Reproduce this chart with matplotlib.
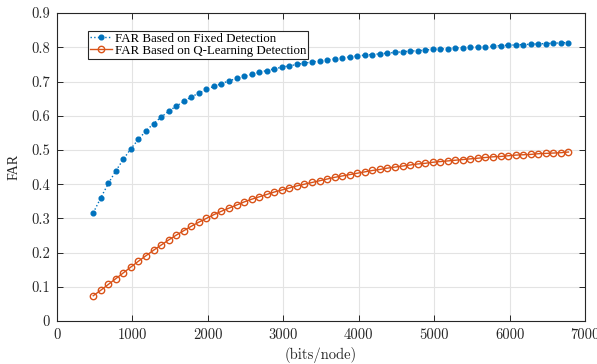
import matplotlib
matplotlib.use("Agg")
import matplotlib.pyplot as plt

# x positions (bits/node), one per marker
bits = list(range(480, 6781, 100))

far_fixed = [
    0.316, 0.360, 0.402, 0.439, 0.473, 0.504, 0.531, 0.556, 0.577, 0.596,
    0.613, 0.628, 0.642, 0.655, 0.666, 0.677, 0.686, 0.694, 0.702, 0.709,
    0.715, 0.721, 0.727, 0.732, 0.737, 0.742, 0.746, 0.750, 0.754, 0.757,
    0.760, 0.763, 0.766, 0.769, 0.772, 0.775, 0.777, 0.779, 0.781, 0.783,
    0.785, 0.787, 0.789, 0.790, 0.792, 0.794, 0.795, 0.796, 0.798, 0.799,
    0.800, 0.801, 0.802, 0.803, 0.805, 0.806, 0.807, 0.808, 0.809, 0.810,
    0.811, 0.812, 0.813, 0.814,
]

far_qlearn = [
    0.074, 0.090, 0.107, 0.124, 0.141, 0.158, 0.175, 0.191, 0.207, 0.222,
    0.237, 0.251, 0.264, 0.277, 0.289, 0.300, 0.311, 0.321, 0.330, 0.339,
    0.348, 0.356, 0.363, 0.370, 0.377, 0.383, 0.389, 0.395, 0.400, 0.405,
    0.410, 0.415, 0.420, 0.424, 0.428, 0.432, 0.436, 0.440, 0.443, 0.447,
    0.450, 0.453, 0.456, 0.459, 0.461, 0.464, 0.466, 0.468, 0.470, 0.472,
    0.474, 0.476, 0.478, 0.480, 0.481, 0.483, 0.485, 0.486, 0.487, 0.489,
    0.490, 0.491, 0.492, 0.494,
]

labels = ["FAR Based on Fixed Detection", "FAR Based on Q-Learning Detection"]
xticks = [0, 1000, 2000, 3000, 4000, 5000, 6000, 7000]
yticks = [0, 0.1, 0.2, 0.3, 0.4, 0.5, 0.6, 0.7, 0.8, 0.9]

BLUE = "#0072BD"
ORANGE = "#D95319"
AXCOL = "#262626"

plt.rcParams["axes.formatter.use_mathtext"] = True

fig = plt.figure(figsize=(5.97, 3.64), dpi=100)
ax = fig.add_axes([0.0955, 0.118, 0.8845, 0.846])

ax.plot(bits, far_fixed, linestyle=":", color=BLUE, linewidth=1.0,
        marker="o", markersize=3.4, markerfacecolor=BLUE,
        markeredgecolor=BLUE, label=labels[0])
ax.plot(bits, far_qlearn, linestyle="-", color=ORANGE, linewidth=1.0,
        marker="o", markersize=4.6, markerfacecolor="none",
        markeredgecolor=ORANGE, markeredgewidth=1.0, label=labels[1])

ax.set_xlim(0, 7000)
ax.set_ylim(0, 0.9)
ax.set_xticks(xticks)
ax.set_yticks(yticks)
ax.set_xticklabels([str(t) for t in xticks], fontfamily="cmr10", fontsize=10.5)
ax.set_yticklabels(["0"] + [f"{t:.1f}" for t in yticks[1:]],
                   fontfamily="cmr10", fontsize=10.5)

ax.grid(True, color="#e3e3e3", linewidth=0.8)
ax.set_axisbelow(True)
for s in ax.spines.values():
    s.set_color(AXCOL)
    s.set_linewidth(0.8)
ax.tick_params(direction="in", length=4, width=0.7, color=AXCOL,
               labelcolor=AXCOL, top=True, right=True, pad=5)

ax.set_xlabel("(bits/node)", fontfamily="cmr10", fontsize=10.5,
              color=AXCOL, labelpad=4)
ax.set_ylabel("FAR", fontfamily="Liberation Serif", fontsize=10,
              color=AXCOL, labelpad=8)

leg = ax.legend(loc="upper left", bbox_to_anchor=(0.059, 0.942),
                borderaxespad=0, fancybox=False, framealpha=1,
                edgecolor=AXCOL, handlelength=1.7, handletextpad=0.2,
                borderpad=0.15, labelspacing=0.0,
                prop={"family": "Liberation Serif", "size": 9.3})
leg.get_frame().set_linewidth(0.8)

fig.savefig("out.png", dpi=100)
